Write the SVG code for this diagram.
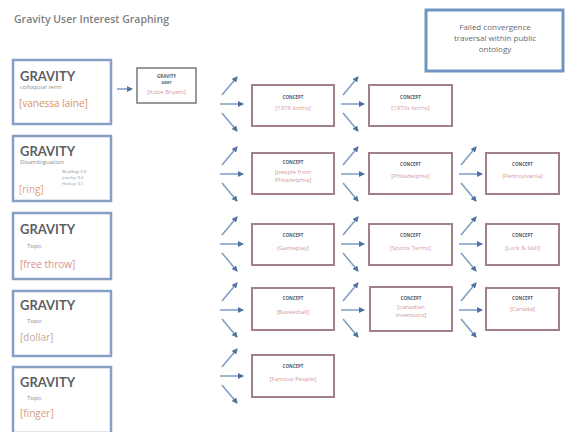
<svg xmlns="http://www.w3.org/2000/svg" width="566" height="432" viewBox="0 0 566 432">
<style>
.gbox{fill:#fff;stroke:#869fc2;stroke-width:2.5}
.cbox{fill:#fff;stroke:#a0808a;stroke-width:2}
.ubox{fill:#fff;stroke:#8a8f95;stroke-width:1.8}
.gt{font-family:Lato,"Open Sans",sans-serif;font-weight:bold;fill:#5f5f63;font-size:13px}
.sub{font-family:"Open Sans",sans-serif;fill:#8a8f99;font-size:6px}
.term{font-family:"Open Sans",sans-serif;font-size:10px}
.ct{font-family:"Open Sans",sans-serif;font-weight:bold;fill:#5a5a5e;font-size:4.5px;text-anchor:middle}
.cl{font-family:"Open Sans",sans-serif;fill:#d49a9a;font-size:6px;text-anchor:middle}
.fc{font-family:"Open Sans",sans-serif;fill:#6a6a70;font-size:8px;text-anchor:middle}
.edge{stroke:#7b9cc4;stroke-width:1.5;fill:none}
.sc{font-family:"Open Sans",sans-serif;fill:#8a8f99;font-size:4px}
</style>
<defs>
<marker id="ah" markerWidth="6" markerHeight="6" refX="5" refY="3" orient="auto" markerUnits="userSpaceOnUse">
<path d="M0,0 L6,3 L0,6 z" fill="#4f73a0"/>
</marker>
<g id="fan">
<line class="edge" x1="2" y1="-9" x2="17" y2="-27" marker-end="url(#ah)"/>
<line class="edge" x1="0" y1="0" x2="23" y2="0" marker-end="url(#ah)"/>
<line class="edge" x1="2" y1="9" x2="17" y2="27" marker-end="url(#ah)"/>
</g>
</defs>
<rect width="566" height="432" fill="#fff"/>
<text x="14" y="23" font-family="'Open Sans',sans-serif" font-weight="600" font-size="10.5" fill="#808084">Gravity User Interest Graphing</text>

<g id="failed">
<rect x="426" y="10" width="137" height="61" fill="#fff" stroke="#7195c2" stroke-width="3"/>
<text class="fc" x="495" y="30">Failed convergence</text>
<text class="fc" x="495" y="41">traversal within public</text>
<text class="fc" x="495" y="52">ontology</text>
</g>

<g id="g1">
<rect class="gbox" x="13" y="60" width="98" height="64"/>
<text class="gt" x="20" y="81">GRAVITY</text>
<text class="sub" x="20" y="89">colloquial term</text>
<text class="term" x="19" y="107" fill="#dc925c">[vanessa laine]</text>
</g>
<g id="g2">
<rect class="gbox" x="13" y="136" width="98" height="65"/>
<text class="gt" x="20" y="156">GRAVITY</text>
<text class="sub" x="20" y="164">Disambiguation</text>
<text class="sc" x="62" y="173">Wedding: 0.6</text>
<text class="sc" x="62" y="179">Jewelry: 0.3</text>
<text class="sc" x="62" y="185">Hockey: 0.1</text>
<text class="term" x="19" y="193" fill="#e2a57a">[ring]</text>
</g>
<g id="g3">
<rect class="gbox" x="13" y="213" width="98" height="66"/>
<text class="gt" x="20" y="234">GRAVITY</text>
<text class="sub" x="27" y="248">Topic</text>
<text class="term" x="20" y="268" fill="#d98f90">[free throw]</text>
</g>
<g id="g4">
<rect class="gbox" x="13" y="291" width="98" height="65"/>
<text class="gt" x="20" y="310">GRAVITY</text>
<text class="sub" x="27" y="323">Topic</text>
<text class="term" x="20" y="341" fill="#c0aaa2">[dollar]</text>
</g>
<g id="g5">
<rect class="gbox" x="13" y="367" width="98" height="66"/>
<text class="gt" x="20" y="387">GRAVITY</text>
<text class="sub" x="27" y="400">Topic</text>
<text class="term" x="20" y="417" fill="#d99a7c">[finger]</text>
</g>

<g id="user">
<rect class="ubox" x="137" y="68" width="59" height="35"/>
<text class="ct" x="166.5" y="78">GRAVITY</text>
<text class="ct" x="166.5" y="84" font-weight="normal">user</text>
<text class="cl" x="166.5" y="94">[Kobe Bryant]</text>
</g>

<g id="c11"><rect class="cbox" x="252" y="85" width="82" height="41"/><text class="ct" x="293" y="99">CONCEPT</text><text class="cl" x="293" y="110">[1978 births]</text></g>
<g id="c12"><rect class="cbox" x="369" y="85" width="83" height="41"/><text class="ct" x="410.5" y="99">CONCEPT</text><text class="cl" x="410.5" y="110">[1970s births]</text></g>

<g id="c21"><rect class="cbox" x="252" y="153" width="82" height="41"/><text class="ct" x="293" y="164">CONCEPT</text><text class="cl" x="293" y="174">[people from</text><text class="cl" x="293" y="182">Philadelphia]</text></g>
<g id="c22"><rect class="cbox" x="369" y="153" width="83" height="41"/><text class="ct" x="410.5" y="166">CONCEPT</text><text class="cl" x="410.5" y="178">[Philadelphia]</text></g>
<g id="c23"><rect class="cbox" x="486" y="153" width="73" height="41"/><text class="ct" x="522.5" y="166">CONCEPT</text><text class="cl" x="522.5" y="178">[Pennsylvania]</text></g>

<g id="c31"><rect class="cbox" x="252" y="224" width="82" height="41"/><text class="ct" x="293" y="237">CONCEPT</text><text class="cl" x="293" y="250">[Gameplay]</text></g>
<g id="c32"><rect class="cbox" x="369" y="224" width="83" height="41"/><text class="ct" x="410.5" y="237">CONCEPT</text><text class="cl" x="410.5" y="250">[Sports Terms]</text></g>
<g id="c33"><rect class="cbox" x="486" y="224" width="73" height="41"/><text class="ct" x="522.5" y="237">CONCEPT</text><text class="cl" x="522.5" y="250">[Luck &amp; Skill]</text></g>

<g id="c41"><rect class="cbox" x="252" y="288" width="82" height="42"/><text class="ct" x="293" y="300">CONCEPT</text><text class="cl" x="293" y="314">[Basketball]</text></g>
<g id="c42"><rect class="cbox" x="370" y="287" width="82" height="44"/><text class="ct" x="411" y="300">CONCEPT</text><text class="cl" x="411" y="309">[canadian</text><text class="cl" x="411" y="317">inventions]</text></g>
<g id="c43"><rect class="cbox" x="486" y="288" width="73" height="42"/><text class="ct" x="522.5" y="300">CONCEPT</text><text class="cl" x="522.5" y="311">[Canada]</text></g>

<g id="c51"><rect class="cbox" x="252" y="355" width="82" height="42"/><text class="ct" x="293" y="368">CONCEPT</text><text class="cl" x="293" y="381">[Famous People]</text></g>

<g id="connectors">
<line class="edge" x1="117" y1="89" x2="132" y2="89" marker-end="url(#ah)"/>
<use href="#fan" x="220" y="104"/>
<use href="#fan" x="220" y="174"/>
<use href="#fan" x="220" y="244"/>
<use href="#fan" x="220" y="310"/>
<use href="#fan" x="220" y="376"/>
<use href="#fan" x="341" y="104"/>
<use href="#fan" x="341" y="174"/>
<use href="#fan" x="341" y="244"/>
<use href="#fan" x="341" y="310"/>
<use href="#fan" x="459" y="174"/>
<use href="#fan" x="459" y="244"/>
<use href="#fan" x="459" y="310"/>
</g>
</svg>
